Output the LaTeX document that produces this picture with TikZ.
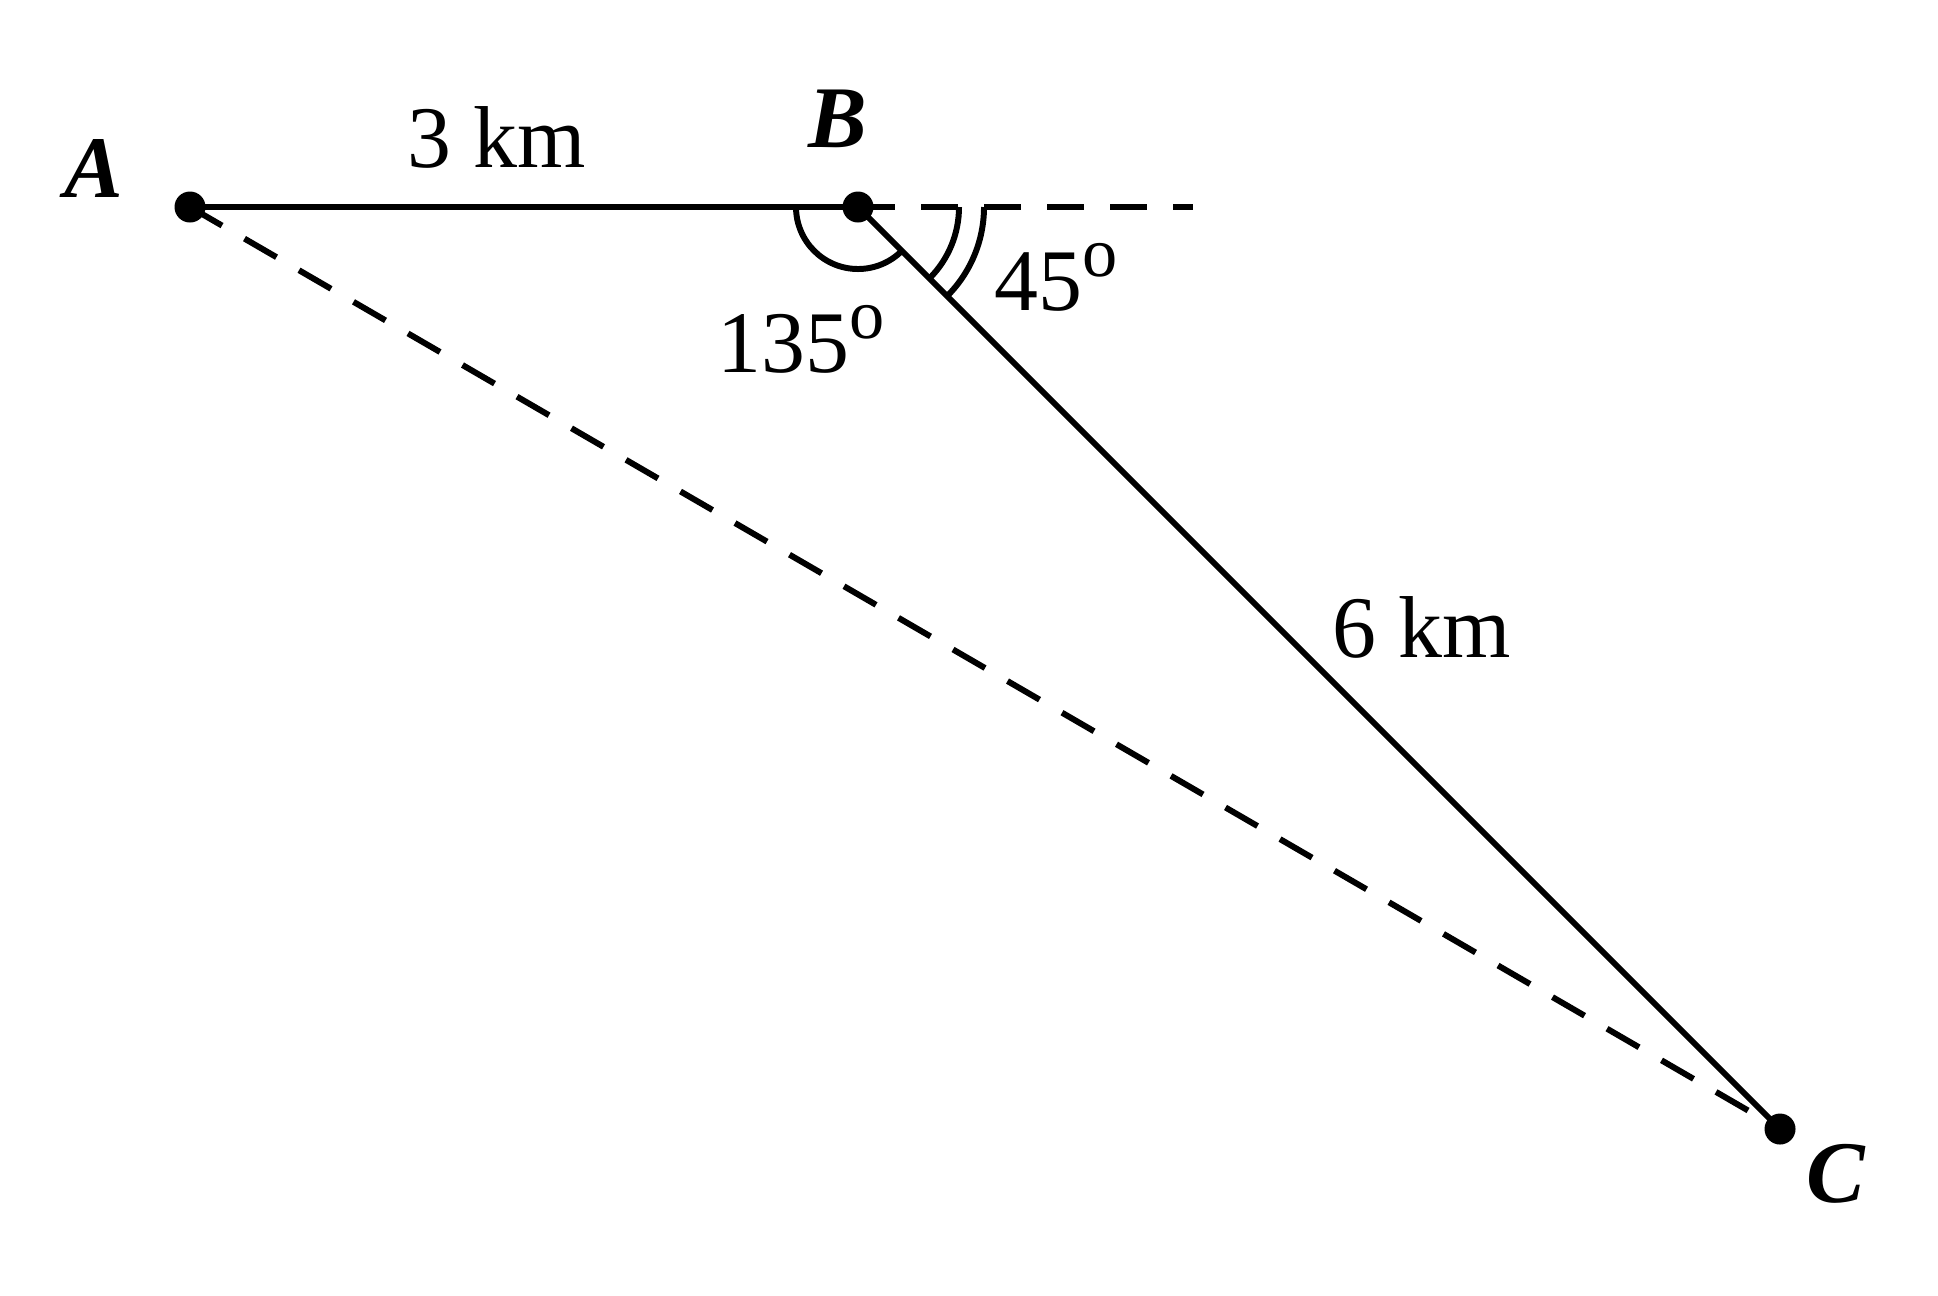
\documentclass[tikz,border=0pt]{standalone}
\usepackage{fontspec}
\setmainfont{Liberation Serif}
\usepackage{tikz}
\usetikzlibrary{calc,positioning}

\newcommand{\degsup}{\raisebox{9.4pt}{\fontsize{20}{20}\selectfont o}}

\begin{document}
\begin{tikzpicture}[
            line width=1.7pt,
            pt/.style={circle,fill,inner sep=0pt,minimum size=3.1mm},
            lbl/.style={inner sep=0pt,anchor=base,font=\fontsize{25}{30}\selectfont},
            dashline/.style={dash pattern=on 3.7mm off 2.6mm}
        ]
            \useasboundingbox (0,0) rectangle (19.38,-12.95);

            \node (A) at (1.90,-2.07)  [pt] {};
            \node (B) at (8.58,-2.07)  [pt] {};
            \node (C) at (17.80,-11.29) [pt] {};
            \coordinate (E) at (11.93,-2.07);

            \node (lA) [lbl] at (0.94,-1.97)  {\textbf{\textit{A}}};
            \node (lB) [lbl] at (8.38,-1.47)  {\textbf{\textit{B}}};
            \node (lC) [lbl] at (18.36,-12.02) {\textbf{\textit{C}}};
            \node (lAB) [lbl] at (4.97,-1.67)  {3 km};
            \node (lBC) [lbl] at (14.22,-6.57) {6 km};
            \node (aABC) [lbl] at (8.01,-3.72) {135\degsup};
            \node (aCBE) [lbl] at (10.56,-3.10) {45\degsup};

            \draw            (A.center) -- (B.center);
            \draw            (B.center) -- (C.center);
            \draw [dashline] (B.center) -- (E);
            \draw [dashline] (A.center) -- (C.center);

            \draw (B.center) ++(180:0.62) arc[start angle=180,end angle=315,radius=0.62];
            \draw (B.center) ++(0:1.01)   arc[start angle=0,end angle=-45,radius=1.01];
            \draw (B.center) ++(0:1.26)   arc[start angle=0,end angle=-45,radius=1.26];
        \end{tikzpicture}
\end{document}
